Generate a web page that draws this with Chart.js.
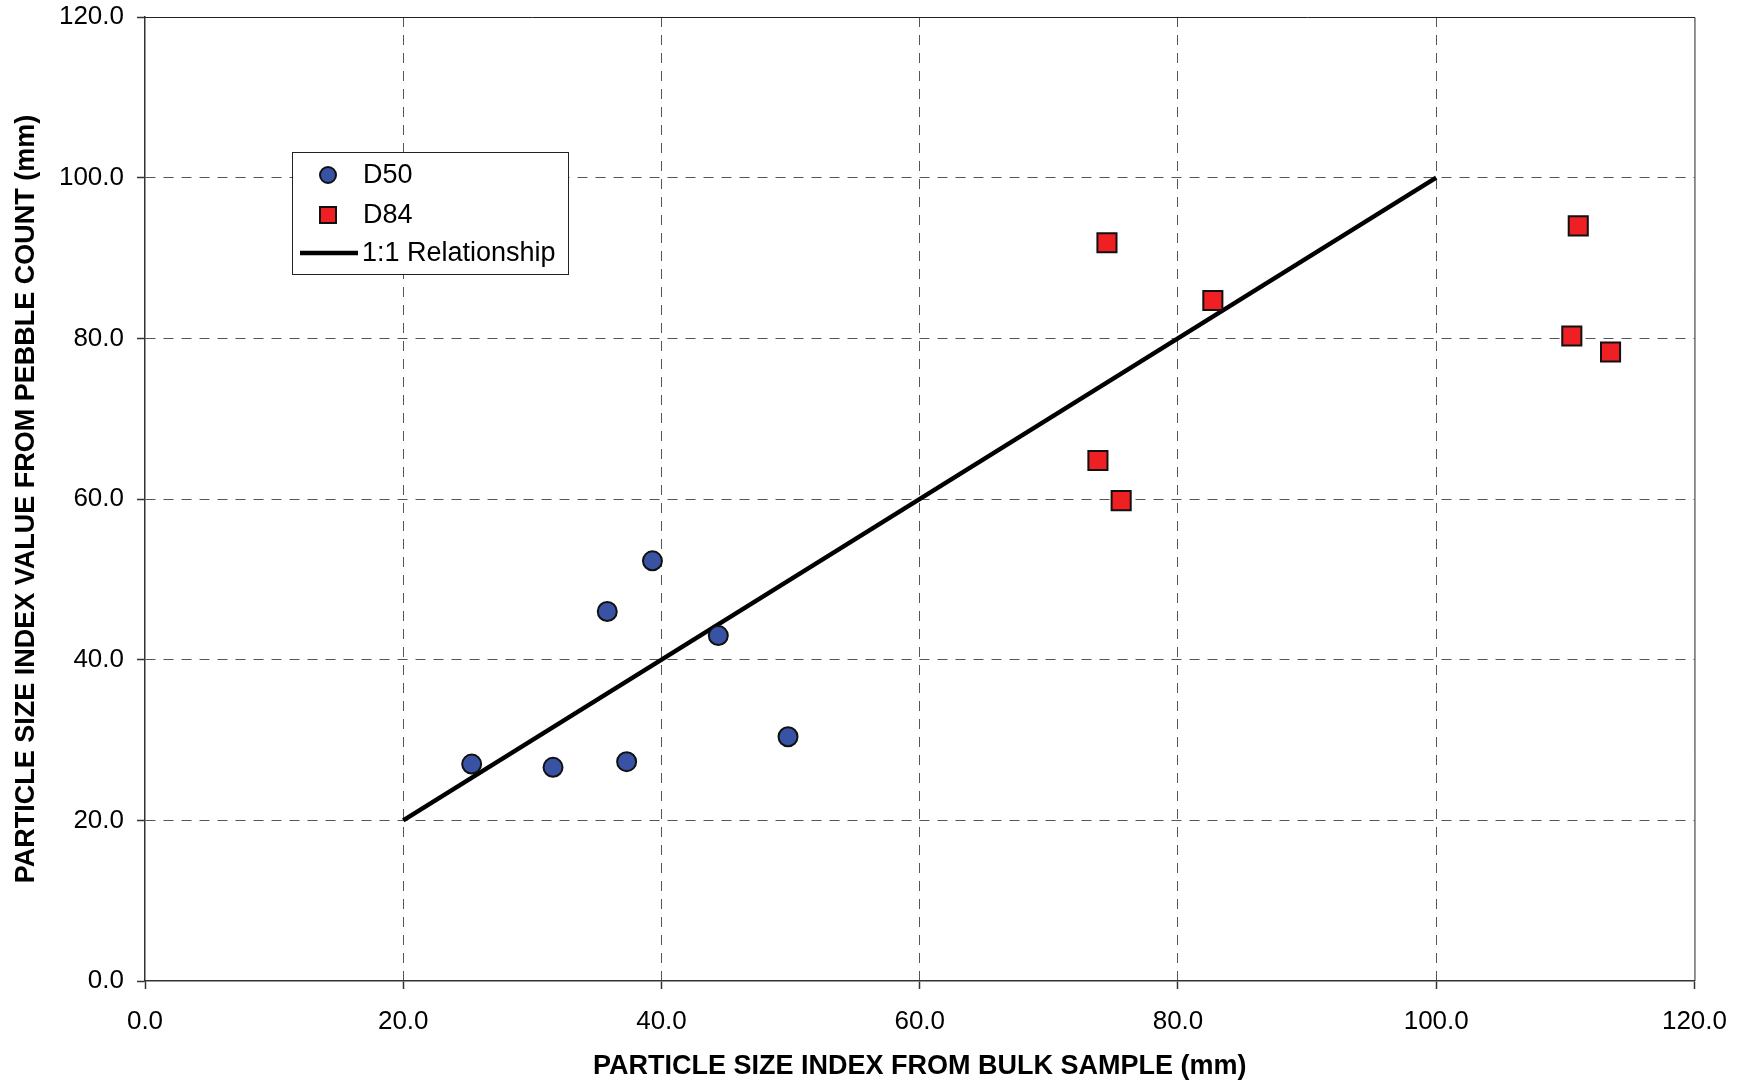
<!DOCTYPE html>
<html>
<head>
<meta charset="utf-8">
<script src="https://cdn.jsdelivr.net/npm/chart.js@4.4.1/dist/chart.umd.min.js"></script>
<style>
  html, body { margin: 0; padding: 0; background: #fff; }
  canvas { display: block; }
</style>
</head>
<body>
<canvas id="chart" width="1744" height="1084"></canvas>
<script>
// values (mm)
const d50X = [25.3, 31.6, 37.3, 35.8, 39.3, 44.4, 49.8];
const d50Y = [27.0, 26.6, 27.3, 46.0, 52.3, 43.0, 30.4];
const d84X = [74.5, 82.7, 73.8, 75.6, 111.0, 110.5, 113.5];
const d84Y = [91.9, 84.7, 64.8, 59.8, 94.0, 80.3, 78.3];
const lineX = [20, 100];
const lineY = [20, 100];

const seriesLabels = ['D50', 'D84', '1:1 Relationship'];
const xTitle = 'PARTICLE SIZE INDEX FROM BULK SAMPLE (mm)';
const yTitle = 'PARTICLE SIZE INDEX VALUE FROM PEBBLE COUNT (mm)';

const toPoints = (xs, ys) => xs.map((x, i) => ({x, y: ys[i]}));

const BLUE = '#3953A4';
const RED = '#EE2024';

// top and right edges of the plot box
const framePlugin = {
  id: 'frame',
  beforeDatasetsDraw(chart) {
    const {ctx, chartArea: a} = chart;
    ctx.save();
    ctx.strokeStyle = '#222';
    ctx.lineWidth = 1;
    ctx.beginPath();
    ctx.moveTo(a.left, a.top + 0.5);
    ctx.lineTo(a.right + 0.5, a.top + 0.5);
    ctx.lineTo(a.right + 0.5, a.bottom);
    ctx.stroke();
    ctx.restore();
  }
};

// boxed legend sitting inside the plot
const legendBox = {
  id: 'legendBox',
  afterDraw(chart) {
    const {ctx, chartArea: a} = chart;
    const left = a.left + 147;
    const top = a.top + 135;
    const w = 276, h = 122;
    ctx.save();
    ctx.fillStyle = '#fff';
    ctx.fillRect(left, top, w, h);
    ctx.strokeStyle = '#222';
    ctx.lineWidth = 1;
    ctx.strokeRect(left + 0.5, top + 0.5, w, h);

    const mx = left + 36;
    const tx = left + 71;
    const rows = [top + 23, top + 63, top + 101];

    ctx.lineWidth = 2;
    ctx.strokeStyle = '#111';
    ctx.fillStyle = BLUE;
    ctx.beginPath();
    ctx.arc(mx, rows[0], 8, 0, Math.PI * 2);
    ctx.fill();
    ctx.stroke();

    ctx.fillStyle = RED;
    ctx.fillRect(mx - 8, rows[1] - 8, 16, 16);
    ctx.strokeRect(mx - 8, rows[1] - 8, 16, 16);

    ctx.lineWidth = 4.5;
    ctx.strokeStyle = '#000';
    ctx.beginPath();
    ctx.moveTo(left + 8, rows[2]);
    ctx.lineTo(left + 66, rows[2]);
    ctx.stroke();

    ctx.fillStyle = '#000';
    ctx.font = '27px "Liberation Sans", Arial, sans-serif';
    ctx.textBaseline = 'middle';
    ctx.fillText(seriesLabels[0], tx, rows[0] + 1);
    ctx.fillText(seriesLabels[1], tx, rows[1] + 1);
    ctx.fillText(seriesLabels[2], left + 70, rows[2] + 1);
    ctx.restore();
  }
};

const gridColor = (c) => (c.tick && (c.tick.value === 0 || c.tick.value === 120)) ? 'rgba(0,0,0,0)' : '#555';

const axis = (title, isX) => ({
  type: 'linear',
  position: isX ? 'bottom' : 'left',
  min: 0,
  max: 120,
  afterFit: (scale) => {
    if (isX) {
      scale.height = 103;
    } else {
      scale.width = 145;
      scale.paddingTop = 0;
    }
  },
  ticks: {
    stepSize: 20,
    color: '#000',
    padding: isX ? 17 : 13,
    font: {family: '"Liberation Sans", Arial, sans-serif', size: 26},
    callback: (v) => Number(v).toFixed(1)
  },
  grid: {
    color: gridColor,
    lineWidth: 1,
    drawTicks: true,
    tickLength: 8,
    tickColor: '#333',
    tickBorderDash: [],
    tickWidth: 1.5
  },
  border: {
    display: true,
    color: '#333',
    width: 1.5,
    dash: [10, 8]
  },
  title: {
    display: true,
    text: title,
    color: '#000',
    font: {family: '"Liberation Sans", Arial, sans-serif', size: 27, weight: 'bold'},
    padding: isX ? {top: 0, bottom: 1} : {top: 10, bottom: 0}
  }
});

new Chart(document.getElementById('chart'), {
  type: 'scatter',
  data: {
    datasets: [
      {
        label: seriesLabels[0],
        data: toPoints(d50X, d50Y),
        pointStyle: 'circle',
        pointRadius: 9.5,
        pointBackgroundColor: BLUE,
        pointBorderColor: '#111',
        pointBorderWidth: 2,
        order: 1
      },
      {
        label: seriesLabels[1],
        data: toPoints(d84X, d84Y),
        pointStyle: 'rect',
        pointRadius: 13.5,
        pointBackgroundColor: RED,
        pointBorderColor: '#111',
        pointBorderWidth: 2,
        order: 2
      },
      {
        label: seriesLabels[2],
        type: 'line',
        data: toPoints(lineX, lineY),
        showLine: true,
        borderColor: '#000',
        borderWidth: 4.5,
        pointRadius: 0,
        fill: false,
        order: 3
      }
    ]
  },
  options: {
    responsive: false,
    devicePixelRatio: 1,
    animation: false,
    layout: {padding: {top: 17, right: 49, left: 0, bottom: 0}},
    plugins: {
      legend: {display: false},
      tooltip: {enabled: false}
    },
    scales: {
      x: axis(xTitle, true),
      y: axis(yTitle, false)
    }
  },
  plugins: [framePlugin, legendBox]
});
</script>
</body>
</html>
